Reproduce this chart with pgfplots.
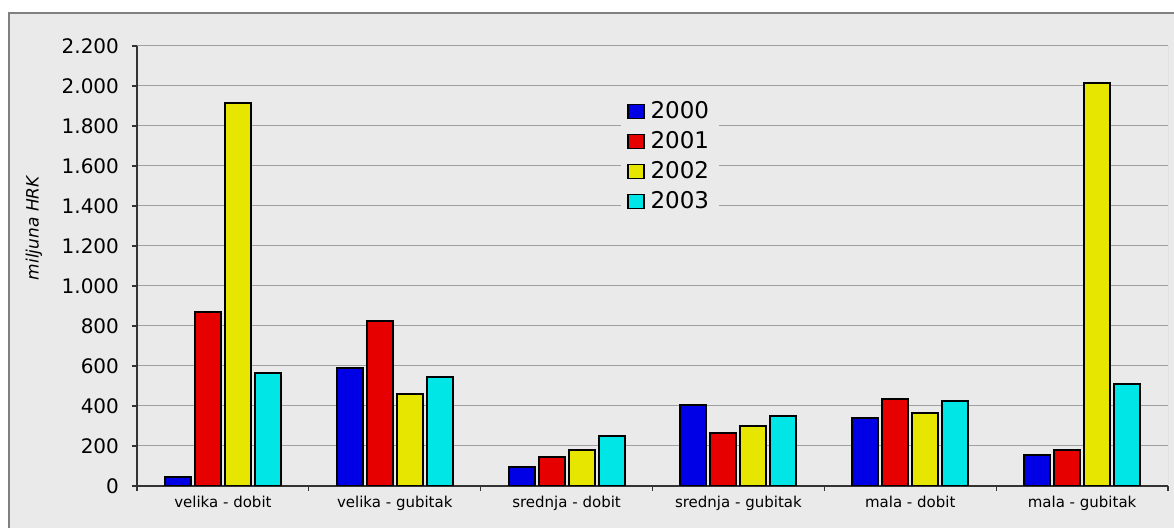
\documentclass[border=0pt]{standalone}
\usepackage{pgfplots}
\pgfplotsset{compat=1.18}
\usepackage{fontspec}
\setmainfont{DejaVu Sans}
\definecolor{bg}{HTML}{EAEAEA}
\definecolor{gridc}{HTML}{A0A0A0}
\definecolor{c2000}{HTML}{0000E6}
\definecolor{c2001}{HTML}{E60000}
\definecolor{c2002}{HTML}{E6E600}
\definecolor{c2003}{HTML}{00E6E6}
\pgfplotsset{lg/.style={legend image code/.code={%
  \draw[##1,line width=0.6pt] (0pt,-3.5pt) rectangle (8pt,3.5pt);}}}
\begin{document}
\begin{tikzpicture}
\useasboundingbox (-68.5pt,-21pt) rectangle (518.5pt,243pt);
\fill[white] (-68.5pt,-21pt) rectangle (518.5pt,243pt);
\begin{scope}
\clip (-68.5pt,-21pt) rectangle (518.5pt,243pt);
\filldraw[fill=bg, draw=gray, line width=1pt] (-64pt,-40pt) rectangle (540pt,236.5pt);
\end{scope}
\begin{axis}[
    scale only axis,
    width=515.5pt, height=220pt,
    axis lines=left,
    axis line style={-, black!80, line width=0.6pt},
    xmin=-0.5, xmax=5.5,
    ymin=0, ymax=2200,
    ybar=2pt, bar width=13pt,
    tick align=outside,
    major tick length=2.5pt,
    tick style={black!80, line width=0.6pt},
    xtick={-0.5,0.5,...,5.5},
    xticklabels={},
    extra x ticks={0,1,2,3,4,5},
    extra x tick labels={velika - dobit,velika - gubitak,srednja - dobit,srednja - gubitak,mala - dobit,mala - gubitak},
    extra x tick style={major tick length=0pt, tick label style={font=\fontsize{7.5}{9}\selectfont, yshift=-1.5pt}},
    ytick={0,200,...,2200},
    ymajorgrids=true,
    major grid style={gridc, line width=0.5pt},
    yticklabel style={font=\fontsize{10}{12}\selectfont, xshift=-3pt},
    /pgf/number format/.cd, 1000 sep={.}, assume math mode=true, /pgfplots/.cd,
    ylabel={\fontsize{8.5}{10}\selectfont\itshape miljuna HRK},
    y label style={at={(axis description cs:-0.0999,0.586)}, anchor=center},
    legend style={at={(rel axis cs:0.4694,0.898)}, anchor=north west, draw=none, fill=bg,
        font=\fontsize{11.5}{14}\selectfont, row sep=1pt, column sep=1pt, inner sep=3pt},
    legend cell align=left,
    every axis plot/.append style={draw=black, line width=1pt},
]
\addplot[fill=c2000, lg] coordinates {(0,45) (1,590) (2,95) (3,405) (4,338) (5,155)};
\addplot[fill=c2001, lg] coordinates {(0,870) (1,825) (2,145) (3,265) (4,433) (5,180)};
\addplot[fill=c2002, lg] coordinates {(0,1915) (1,460) (2,180) (3,300) (4,363) (5,2015)};
\addplot[fill=c2003, lg] coordinates {(0,565) (1,545) (2,250) (3,350) (4,425) (5,512)};
\legend{2000,2001,2002,2003}
\draw[gridc, line width=0.5pt] (rel axis cs:1,0) -- (rel axis cs:1,1);
\end{axis}
\end{tikzpicture}
\end{document}
